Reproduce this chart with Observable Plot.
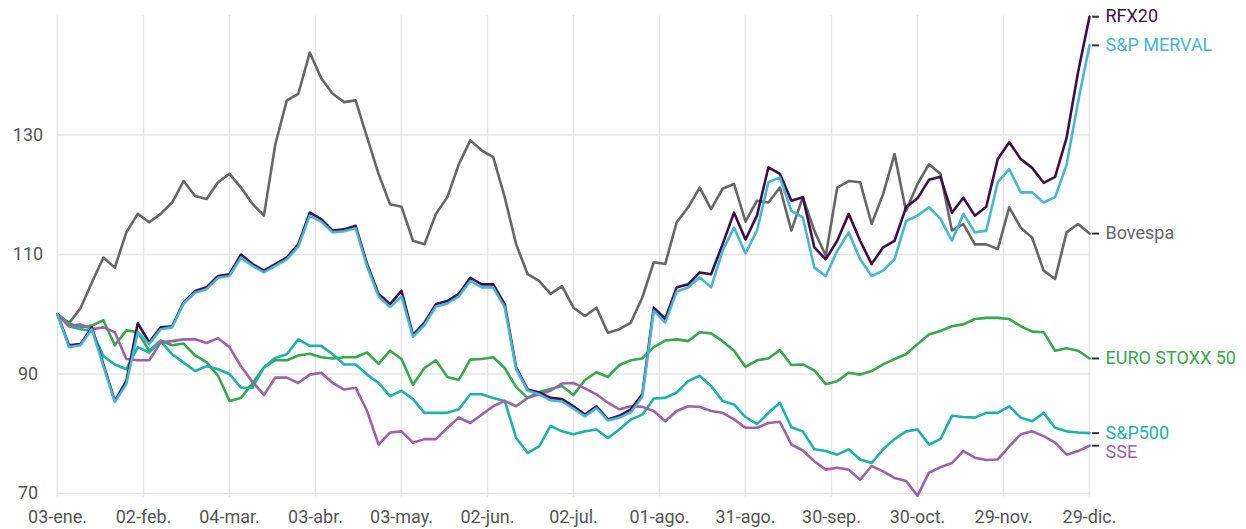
<!DOCTYPE html>
<html>
<head>
<meta charset="utf-8">
<script src="https://cdn.jsdelivr.net/npm/d3@7"></script>
<script src="https://cdn.jsdelivr.net/npm/@observablehq/plot@0.6"></script>
<style>
  html, body { margin: 0; padding: 0; background: #fff; }
  #chart { width: 1246px; height: 529px; }
</style>
</head>
<body>
<div id="chart"></div>
<script>
const dates = [
  "2022-01-03","2022-01-07","2022-01-11","2022-01-15","2022-01-19","2022-01-23","2022-01-27","2022-01-31",
  "2022-02-04","2022-02-08","2022-02-12","2022-02-16","2022-02-20","2022-02-24","2022-02-28",
  "2022-03-04","2022-03-08","2022-03-12","2022-03-16","2022-03-20","2022-03-24","2022-03-28",
  "2022-04-01","2022-04-05","2022-04-09","2022-04-13","2022-04-17","2022-04-21","2022-04-25","2022-04-29",
  "2022-05-03","2022-05-07","2022-05-11","2022-05-15","2022-05-19","2022-05-23","2022-05-27","2022-05-31",
  "2022-06-04","2022-06-08","2022-06-12","2022-06-16","2022-06-20","2022-06-24","2022-06-28",
  "2022-07-02","2022-07-06","2022-07-10","2022-07-14","2022-07-18","2022-07-22","2022-07-26","2022-07-30",
  "2022-08-03","2022-08-07","2022-08-11","2022-08-15","2022-08-19","2022-08-23","2022-08-27","2022-08-31",
  "2022-09-04","2022-09-08","2022-09-12","2022-09-16","2022-09-20","2022-09-24","2022-09-28",
  "2022-10-02","2022-10-06","2022-10-10","2022-10-14","2022-10-18","2022-10-22","2022-10-26","2022-10-30",
  "2022-11-03","2022-11-07","2022-11-11","2022-11-15","2022-11-19","2022-11-23","2022-11-27",
  "2022-12-01","2022-12-05","2022-12-09","2022-12-13","2022-12-17","2022-12-21","2022-12-25","2022-12-29"
];

const bovespa = [
  100, 98.5, 101, 105.3, 109.5, 107.8, 113.7, 116.8, 115.4, 116.8, 118.7, 122.3, 119.8, 119.3, 122.1, 123.5,
  121.2, 118.5, 116.5, 128.5, 135.8, 136.9, 143.8, 139.5, 136.9, 135.5, 135.8, 129.6, 123.5, 118.4, 118,
  112.3, 111.7, 116.8, 119.6, 125.1, 129.1, 127.4, 126.3, 119.6, 111.7, 106.7, 105.6, 103.4, 104.7, 101.1,
  99.7, 101.1, 96.9, 97.5, 98.6, 102.8, 108.7, 108.4, 115.4, 117.9, 121.2, 117.6, 121, 121.8, 115.5,
  119, 118.7, 121.2, 114, 119.6, 114, 109.8, 121.2, 122.3, 122.1, 115.1, 120.1, 126.8, 117.3, 121.8,
  125.1, 123.5, 114, 115.1, 111.7, 111.7, 110.9, 117.9, 114.5, 112.8, 107.3, 105.9, 113.7, 115.1, 113.5
];
const euroStoxx = [
  100, 98.5, 97.8, 98.1, 99, 94.8, 97.3, 97, 93.9, 95.6, 94.8, 95.1, 93.1, 92, 89.7, 85.5,
  86, 88.4, 91.1, 92.3, 92.3, 93.1, 93.4, 92.8, 92.6, 92.8, 92.8, 93.6, 91.7, 93.9, 92.5,
  88.2, 91, 92.3, 89.5, 89, 92.4, 92.5, 92.8, 91, 87.8, 86, 87, 87.5, 88, 86.5,
  89, 90.3, 89.5, 91.5, 92.3, 92.6, 94.5, 95.6, 95.8, 95.5, 97, 96.8, 95.5, 93.9, 91.2,
  92.3, 92.6, 94, 91.5, 91.6, 90.6, 88.3, 88.8, 90.2, 89.9, 90.5, 91.6, 92.5, 93.3, 95,
  96.6, 97.2, 98, 98.3, 99.2, 99.4, 99.4, 99.2, 98, 97.1, 97, 93.9, 94.3, 93.9, 92.6
];
const sp500 = [
  100, 98, 97.5, 97.2, 93, 91.6, 90.8, 94.5, 93.6, 95.5, 93.3, 91.9, 90.5, 91.3, 90.8, 90,
  87.7, 87.7, 91.1, 92.7, 93.3, 95.8, 94.7, 94.7, 93.3, 91.6, 91.6, 89.9, 88.5, 86.3, 87.2,
  85.8, 83.5, 83.5, 83.5, 84.1, 86.6, 86.6, 86, 85.5, 79.3, 76.8, 77.9, 81.3, 80.4, 79.9,
  80.4, 80.7, 79.3, 80.7, 82.4, 83.2, 85.9, 86, 86.9, 88.8, 89.7, 88, 85.5, 84.9, 82.8,
  81.6, 83.5, 85.2, 81.1, 80.4, 77.4, 77.1, 76.5, 77.4, 75.7, 75.1, 77.4, 79.1, 80.4, 80.7,
  78.2, 79.1, 83, 82.8, 82.7, 83.5, 83.5, 84.6, 82.7, 82.1, 83.5, 81, 80.4, 80.2, 80.1
];
const sse = [
  100, 98, 98.3, 97.5, 97.8, 97, 92.5, 92.3, 92.3, 95.3, 95.5, 95.8, 95.8, 95.2, 96, 94.5,
  91.3, 88.7, 86.5, 89.4, 89.4, 88.5, 89.9, 90.2, 88.5, 87.4, 87.7, 83.8, 78.2, 80.2, 80.4,
  78.5, 79.1, 79.1, 81, 82.7, 81.8, 83.2, 84.6, 85.5, 84.6, 86, 86.6, 87.2, 88.4, 88.5,
  87.6, 86.6, 85.2, 84.1, 84.6, 84.5, 83.8, 82.1, 83.8, 84.6, 84.5, 83.8, 83.5, 82.4, 81,
  81, 81.8, 82, 78.2, 77.2, 75.4, 74, 74.3, 74, 72.3, 74.6, 73.7, 72.6, 72.1, 69.6,
  73.5, 74.4, 75.1, 77.1, 76, 75.6, 75.7, 77.9, 79.9, 80.4, 79.6, 78.5, 76.5, 77.1, 78
];
const rfx20 = [
  100, 94.8, 95, 97.8, 91.6, 85.5, 88.8, 98.5, 95.3, 97.8, 98, 102, 103.9, 104.5, 106.4, 106.7,
  110, 108.4, 107.3, 108.4, 109.5, 111.7, 117, 115.9, 114, 114.2, 114.8, 108.4, 103.4, 101.7, 103.9,
  96.5, 98.6, 101.7, 102.2, 103.4, 106.1, 105, 105, 101.7, 91.1, 87.4, 86.9, 86, 85.8, 84.6,
  83.2, 84.6, 82.4, 83, 84.1, 86.6, 101.1, 99.2, 104.5, 105, 107, 106.7, 111.7, 117, 112.5,
  116.5, 124.6, 123.5, 119, 119.6, 111.2, 109.2, 112.3, 116.8, 112.3, 108.4, 111.2, 112.3, 117.9, 119.4,
  122.5, 123, 117, 119.5, 116.5, 118, 126, 128.8, 126, 124.5, 122, 123, 129.5, 140.5, 149.8
];
const merval = [
  100, 94.5, 94.8, 97.5, 91.3, 85.3, 88.3, 97, 95, 97.5, 97.8, 101.8, 103.6, 104.2, 106.1, 106.4,
  109.5, 108.1, 107, 108.1, 109.2, 111.3, 116.5, 115.5, 113.7, 113.9, 114.4, 108, 103, 101.2, 103,
  96.2, 98.2, 101.3, 101.8, 103, 105.6, 104.5, 104.5, 101.2, 90.8, 87.2, 86.6, 85.6, 85.4, 84.2,
  82.9, 84.3, 82.2, 82.7, 83.6, 86.2, 100.6, 98.6, 103.8, 104.5, 106.2, 104.5, 110.6, 114.5, 110.2,
  114, 122.1, 122.9, 117.3, 116.2, 107.8, 106.4, 110.6, 113.7, 109.2, 106.4, 107.3, 109.2, 115.6, 116.5,
  117.9, 116, 112.3, 116.8, 113.7, 114, 122.1, 124.3, 120.4, 120.4, 118.7, 119.6, 125, 135.5, 145
];

const seriesNames = ["Bovespa", "EURO STOXX 50", "S&P500", "SSE", "RFX20", "S&P MERVAL"];
const seriesValues = [bovespa, euroStoxx, sp500, sse, rfx20, merval];
const seriesColors = ["#666666", "#36a94a", "#1db2ad", "#9d62aa", "#3d0f4a", "#46b6d6"];

const tickDates = ["2022-01-03","2022-02-02","2022-03-04","2022-04-03","2022-05-03","2022-06-02",
  "2022-07-02","2022-08-01","2022-08-31","2022-09-30","2022-10-30","2022-11-29","2022-12-29"];
const tickLabels = ["03-ene.","02-feb.","04-mar.","03-abr.","03-may.","02-jun.",
  "02-jul.","01-ago.","31-ago.","30-sep.","30-oct.","29-nov.","29-dic."];
const yTicks = [70, 90, 110, 130];

const parse = s => new Date(s + "T00:00:00Z");
const rows = [];
seriesNames.forEach((name, i) => {
  seriesValues[i].forEach((v, j) => rows.push({series: name, date: parse(dates[j]), value: v}));
});
const lastRows = seriesNames.map((name, i) => ({
  series: name, date: parse(dates[dates.length - 1]), value: seriesValues[i][seriesValues[i].length - 1]
}));
const tickDateObjs = tickDates.map(parse);
const labelOf = new Map(tickDateObjs.map((d, i) => [+d, tickLabels[i]]));

const dash = {
  draw(context, size) {
    const r = Math.sqrt(size / Math.PI);
    context.moveTo(-r, 0);
    context.lineTo(r, 0);
  }
};

const chart = Plot.plot({
  width: 1246,
  height: 529,
  marginLeft: 57,
  marginRight: 157,
  marginTop: 15,
  marginBottom: 36,
  style: {fontFamily: "Roboto, sans-serif", fontSize: "18px", background: "#fff"},
  x: {type: "utc", domain: [tickDateObjs[0], tickDateObjs[tickDateObjs.length - 1]]},
  y: {domain: [70, 150]},
  color: {domain: seriesNames, range: seriesColors},
  marks: [
    Plot.gridX(tickDateObjs, {stroke: "#e6e6e6", strokeOpacity: 1, strokeWidth: 1.6}),
    Plot.gridY(yTicks, {stroke: "#e6e6e6", strokeOpacity: 1, strokeWidth: 1.6}),
    Plot.axisX(tickDateObjs, {
      tickSize: 4, tickPadding: 13, stroke: "#e6e6e6", strokeWidth: 1.6, strokeOpacity: 1,
      fill: "#555", fontSize: 18, tickFormat: d => labelOf.get(+d), label: null
    }),
    Plot.axisY(yTicks, {
      tickSize: 0, tickPadding: 29.5, textAnchor: "middle", fill: "#555", fontSize: 18, label: null
    }),
    Plot.line(rows, {x: "date", y: "value", z: "series", stroke: "series", strokeWidth: 2.6, strokeLinejoin: "round"}),
    Plot.dot(lastRows, {x: "date", y: "value", symbol: dash, r: 3.4, dx: 6, stroke: "#333", strokeWidth: 2, fill: "none"}),
    Plot.text(lastRows.filter(d => d.series !== "SSE"), {
      x: "date", y: "value", text: "series", fill: "series", dx: 16, textAnchor: "start", fontSize: 18
    }),
    Plot.text(lastRows.filter(d => d.series === "SSE"), {
      x: "date", y: "value", text: "series", fill: "series", dx: 16, dy: 7, textAnchor: "start", fontSize: 18
    })
  ]
});
document.getElementById("chart").appendChild(chart);
</script>
</body>
</html>
